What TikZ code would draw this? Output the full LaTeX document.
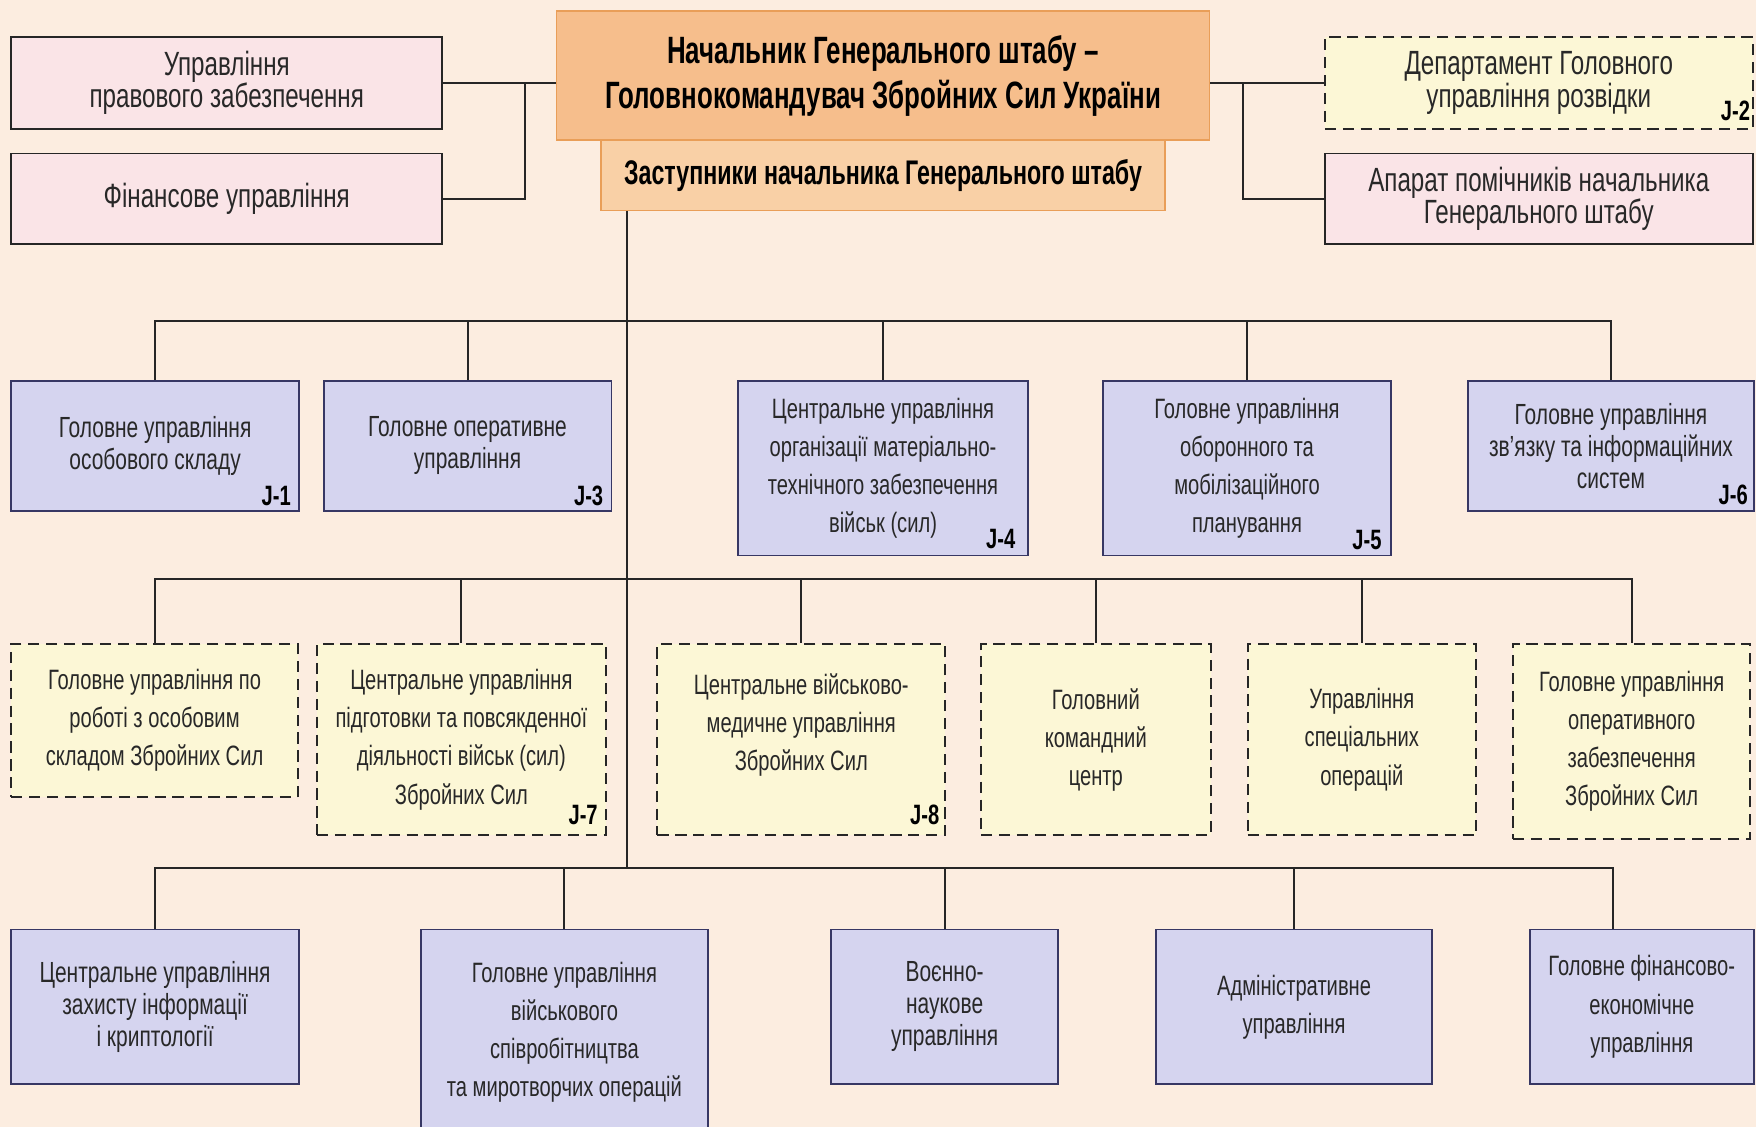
\documentclass[tikz,border=0pt]{standalone}
\usepackage{fontspec}
\setmainfont[FakeStretch=0.72]{Liberation Sans}
\newfontfamily\titlefont[FakeStretch=0.68]{Liberation Sans}
\definecolor{bgc}{RGB}{252,237,224}
\definecolor{pinkc}{RGB}{250,228,231}
\definecolor{mainc}{RGB}{246,190,140}
\definecolor{mainline}{RGB}{233,158,88}
\definecolor{depc}{RGB}{249,208,166}
\definecolor{bluec}{RGB}{213,212,239}
\definecolor{bluedraw}{RGB}{55,55,100}
\definecolor{yelc}{RGB}{252,247,214}
\definecolor{textc}{RGB}{40,40,40}
\tikzset{
  box/.style={draw, line width=1.6pt, align=center, inner sep=2pt, text=textc},
  pinkbox/.style={box, fill=pinkc, draw=black!85, font=\fontsize{30}{29}\selectfont},
  mainbox/.style={box, fill=mainc, draw=mainline, text=black, font=\titlefont\bfseries\fontsize{34}{40}\selectfont},
  depbox/.style={box, fill=depc, draw=mainline, text=black, font=\titlefont\bfseries\fontsize{30.5}{31}\selectfont},
  bluebox/.style={box, fill=bluec, draw=bluedraw, font=\fontsize{26}{28.5}\selectfont},
  yelbox/.style={box, fill=yelc, draw=black!85, line width=1.8pt, dash pattern=on 10pt off 6pt, font=\fontsize{25}{34}\selectfont},
  loose/.style={font=\fontsize{25}{34}\selectfont},
  plaintext/.style={align=center, inner sep=0pt, text=textc, font=\fontsize{25}{34}\selectfont},
  jlab/.style={font=\bfseries\fontsize{25}{25}\selectfont, inner sep=0pt, anchor=south east, text=black},
  conn/.style={line width=1.8pt, draw=black!85},
}
\begin{document}
\begin{tikzpicture}[x=1pt,y=-1pt]
\fill[bgc] (0,0) rectangle (1568,1006.3);
\useasboundingbox (0,0) rectangle (1568,1006.3);

% top row
\node[pinkbox, minimum width=385pt, minimum height=82pt] (legal) at (202.5,74) {Управління\\правового забезпечення};
\node[pinkbox, minimum width=385pt, minimum height=81pt] (fin) at (202.5,177.5) {Фінансове управління};
\node[depbox, minimum width=503pt, minimum height=63pt] (dep) at (788.5,156.5) {Заступники начальника Генерального штабу};
\node[mainbox, minimum width=583pt, minimum height=115pt] (main) at (788.5,67.5) {Начальник Генерального штабу –\\Головнокомандувач Збройних Сил України};
\node[yelbox, font=\fontsize{30}{30}\selectfont, minimum width=382pt, minimum height=82pt] (j2) at (1374,74) {Департамент Головного\\управління розвідки};
\node[jlab] (j2l) at ([xshift=-3pt,yshift=8pt]j2.south east) {J-2};
\node[pinkbox, minimum width=382pt, minimum height=81pt] (app) at (1374,177.5) {Апарат помічників начальника\\Генерального штабу};

% row 1
\node[bluebox, minimum width=257pt, minimum height=116pt] (j1) at (138.5,398) {Головне управління\\особового складу};
\node[jlab] (j1l) at ([xshift=-8pt,yshift=5pt]j1.south east) {J-1};
\node[bluebox, minimum width=257pt, minimum height=116pt] (j3) at (417.5,398) {Головне оперативне\\управління};
\node[jlab] (j3l) at ([xshift=-8pt,yshift=5pt]j3.south east) {J-3};
\node[bluebox, loose, minimum width=259pt, minimum height=156pt] (j4) at (788.5,418) {Центральне управління\\організації матеріально-\\технічного забезпечення\\військ (сил)};
\node[jlab] (j4l) at ([xshift=-12pt,yshift=7pt]j4.south east) {J-4};
\node[bluebox, loose, minimum width=257pt, minimum height=156pt] (j5) at (1113.5,418) {Головне управління\\оборонного та\\мобілізаційного\\планування};
\node[jlab] (j5l) at ([xshift=-9pt,yshift=6pt]j5.south east) {J-5};
\node[bluebox, minimum width=255pt, minimum height=116pt] (j6) at (1438.5,398) {Головне управління\\зв’язку та інформаційних\\систем};
\node[jlab] (j6l) at ([xshift=-6pt,yshift=6pt]j6.south east) {J-6};

% row 2
\node[yelbox, minimum width=256pt, minimum height=137pt] (b1) at (138,643.5) {Головне управління по\\роботі з особовим\\складом Збройних Сил};
\node[yelbox, minimum width=258pt, minimum height=171pt] (j7) at (412,660.5) {Центральне управління\\підготовки та повсякденної\\діяльності військ (сил)\\Збройних Сил};
\node[jlab] (j7l) at ([xshift=-8pt,yshift=10pt]j7.south east) {J-7};
\node[yelbox, minimum width=257pt, minimum height=171pt] (j8) at (715.5,660.5) {};
\node[plaintext] (j8t) at ([yshift=13pt]j8.center) {Центральне військово-\\медичне управління\\Збройних Сил};
\node[jlab] (j8l) at ([xshift=-6pt,yshift=10pt]j8.south east) {J-8};
\node[yelbox, minimum width=205pt, minimum height=171pt] (gkc) at (978.5,660.5) {Головний\\командний\\центр};
\node[yelbox, minimum width=204pt, minimum height=171pt] (uso) at (1216,660.5) {Управління\\спеціальних\\операцій};
\node[yelbox, minimum width=212pt, minimum height=174pt] (guoz) at (1457,662) {Головне управління\\оперативного\\забезпечення\\Збройних Сил};

% row 3
\node[bluebox, minimum width=257pt, minimum height=138pt] (c1) at (138.5,899) {Центральне управління\\захисту інформації\\і криптології};
\node[bluebox, loose, minimum width=256pt, minimum height=184pt] (c2) at (504,922) {Головне управління\\військового\\співробітництва\\та миротворчих операцій};
\node[bluebox, minimum width=203pt, minimum height=138pt] (c3) at (843.5,899) {Воєнно-\\наукове\\управління};
\node[bluebox, loose, minimum width=247pt, minimum height=138pt] (c4) at (1155.5,899) {Адміністративне\\управління};
\node[bluebox, loose, minimum width=200pt, minimum height=138pt] (c5) at (1466,899) {Головне фінансово-\\економічне\\управління};

% connectors top
\coordinate (jl) at (469,74);
\coordinate (jr) at (1110,74);
\draw[conn] (legal.east) -- (legal.east -| main.west);
\draw[conn] (fin.east) -| (jl);
\draw[conn] (j2.west -| main.east) -- (j2.west);
\draw[conn] (app.west) -| (jr);

% trunk
\coordinate (t1) at (560,287);
\coordinate (t2) at (560,517);
\coordinate (t3) at (560,775);
\draw[conn] (dep.south -| t1) -- (t3);

% bus 1
\draw[conn] (j1.north) -- (j1.north |- t1) -- (j6.north |- t1) -- (j6.north);
\foreach \n in {j3,j4,j5} \draw[conn] (\n.north) -- (\n.north |- t1);

% bus 2
\draw[conn] (b1.north) -- (b1.north |- t2) -- (guoz.north |- t2) -- (guoz.north);
\foreach \n in {j7,j8,gkc,uso} \draw[conn] (\n.north) -- (\n.north |- t2);

% bus 3
\coordinate (c5top) at ([xshift=-26pt]c5.north);
\draw[conn] (c1.north) -- (c1.north |- t3) -- (c5top |- t3) -- (c5top);
\foreach \n in {c2,c3,c4} \draw[conn] (\n.north) -- (\n.north |- t3);
\end{tikzpicture}
\end{document}
